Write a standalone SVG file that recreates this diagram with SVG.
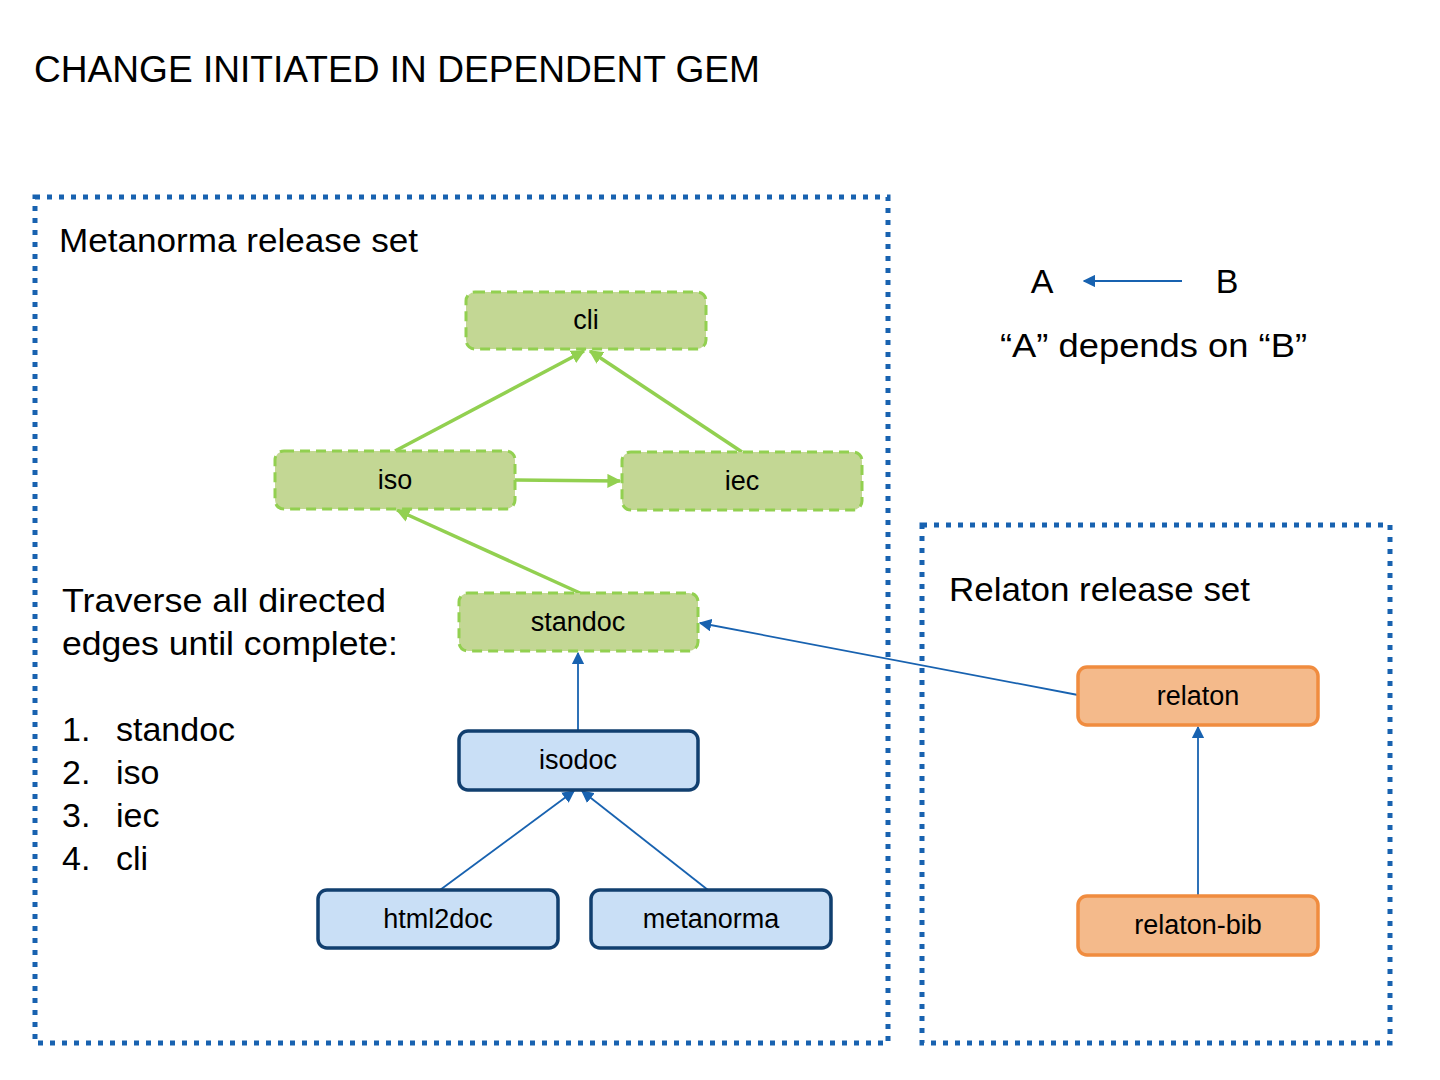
<svg xmlns="http://www.w3.org/2000/svg" width="1440" height="1080" viewBox="0 0 1440 1080">
<defs>
<style>
text{font-family:"Liberation Sans","DejaVu Sans",Arial,sans-serif;fill:#000}
.set{fill:none;stroke:#1862B0;stroke-width:5;stroke-dasharray:5 7}
.g rect{fill:#C3D794;stroke:#92D050;stroke-width:3;stroke-dasharray:10 6}
.b rect{fill:#C9DFF6;stroke:#113F6F;stroke-width:3.5}
.o rect{fill:#F4BA8B;stroke:#F08C3F;stroke-width:3.5}
.lbl{font-size:27px;text-anchor:middle}
.big{font-size:34px}
.ge{stroke:#92D050;stroke-width:3.5;fill:none;marker-end:url(#ag)}
.be{stroke:#1862B0;stroke-width:1.8;fill:none;marker-end:url(#ab)}
</style>
<marker id="ag" viewBox="0 0 10 10" refX="9" refY="5" markerWidth="4" markerHeight="4" orient="auto" markerUnits="strokeWidth"><path d="M0,0 L10,5 L0,10 z" fill="#92D050"/></marker>
<marker id="ab" viewBox="0 0 10 10" refX="9" refY="5" markerWidth="7" markerHeight="7" orient="auto" markerUnits="strokeWidth"><path d="M0,0 L10,5 L0,10 z" fill="#1862B0"/></marker>
</defs>
<rect width="1440" height="1080" fill="#fff"/>
<text x="34" y="82" style="font-size:36px" textLength="726" lengthAdjust="spacingAndGlyphs">CHANGE INITIATED IN DEPENDENT GEM</text>
<g id="metanorma-set">
<rect class="set" x="35" y="197" width="853" height="846"/>
<text x="59" y="252" class="big" textLength="359" lengthAdjust="spacingAndGlyphs">Metanorma release set</text>
</g>
<g id="relaton-set">
<rect class="set" x="922" y="525" width="468" height="518"/>
<text x="949" y="601" class="big" textLength="301" lengthAdjust="spacingAndGlyphs">Relaton release set</text>
</g>
<g id="legend">
<text x="1042" y="293" class="big" text-anchor="middle">A</text>
<text x="1227" y="293" class="big" text-anchor="middle">B</text>
<line class="be" x1="1182" y1="281" x2="1084" y2="281"/>
<text x="1000" y="357" class="big" textLength="307" lengthAdjust="spacingAndGlyphs">“A” depends on “B”</text>
</g>
<g id="steps">
<text x="62" y="612" class="big" textLength="324" lengthAdjust="spacingAndGlyphs">Traverse all directed</text>
<text x="62" y="655" class="big" textLength="336" lengthAdjust="spacingAndGlyphs">edges until complete:</text>
<text x="62" y="741" class="big">1.</text><text x="116" y="741" class="big">standoc</text>
<text x="62" y="784" class="big">2.</text><text x="116" y="784" class="big">iso</text>
<text x="62" y="827" class="big">3.</text><text x="116" y="827" class="big">iec</text>
<text x="62" y="870" class="big">4.</text><text x="116" y="870" class="big">cli</text>
</g>
<g id="connectors">
<line class="ge" x1="395" y1="451" x2="584" y2="351"/>
<line class="ge" x1="742" y1="452" x2="590" y2="351"/>
<line class="ge" x1="515" y1="480" x2="620" y2="481"/>
<line class="ge" x1="580" y1="593" x2="397" y2="510"/>
<line class="be" x1="578" y1="730" x2="578" y2="653"/>
<line class="be" x1="440" y1="890" x2="574" y2="791"/>
<line class="be" x1="708" y1="890" x2="582" y2="791"/>
<line class="be" x1="1078" y1="695" x2="700" y2="623"/>
<line class="be" x1="1198" y1="896" x2="1198" y2="727"/>
</g>
<g id="cli" class="g"><rect x="466" y="292" width="240" height="57" rx="9"/><text class="lbl" x="586" y="329">cli</text></g>
<g id="iso" class="g"><rect x="275" y="451" width="240" height="58" rx="9"/><text class="lbl" x="395" y="489">iso</text></g>
<g id="iec" class="g"><rect x="622" y="452" width="240" height="58" rx="9"/><text class="lbl" x="742" y="490">iec</text></g>
<g id="standoc" class="g"><rect x="459" y="593" width="239" height="58" rx="9"/><text class="lbl" x="578" y="631">standoc</text></g>
<g id="isodoc" class="b"><rect x="459" y="731" width="239" height="59" rx="9"/><text class="lbl" x="578" y="769">isodoc</text></g>
<g id="html2doc" class="b"><rect x="318" y="890" width="240" height="58" rx="9"/><text class="lbl" x="438" y="928">html2doc</text></g>
<g id="metanorma" class="b"><rect x="591" y="890" width="240" height="58" rx="9"/><text class="lbl" x="711" y="928">metanorma</text></g>
<g id="relaton" class="o"><rect x="1078" y="667" width="240" height="58" rx="9"/><text class="lbl" x="1198" y="705">relaton</text></g>
<g id="relaton-bib" class="o"><rect x="1078" y="896" width="240" height="59" rx="9"/><text class="lbl" x="1198" y="934">relaton-bib</text></g>
</svg>
